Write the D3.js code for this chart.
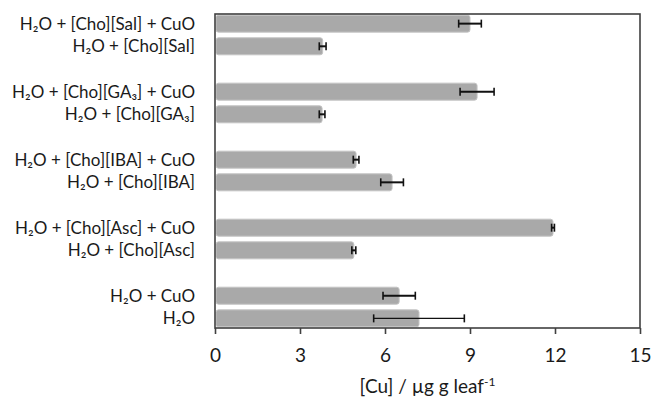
<!DOCTYPE html>
<meta charset="utf-8">
<style>
body{margin:0;background:#fff;}
text{font-family:Lato,"Open Sans",sans-serif;fill:#1a1a1a;}
.frame{fill:none;stroke:#404040;stroke-width:1.6px;}
.bar{fill:#a9a9a9;stroke:#c4c4c4;stroke-width:1px;}
.err line{stroke:#111;}
.x-axis path{display:none;}
.x-axis line{stroke:#404040;stroke-width:1.6px;}
.x-axis text{font-size:19px;}
</style>
<body>
<script src="https://d3js.org/d3.v7.min.js"></script>
<script>

// top to bottom, "" = empty slot between groups
var labels = [
  "H₂O + [Cho][Sal] + CuO", "H₂O + [Cho][Sal]", "",
  "H₂O + [Cho][GA₃] + CuO", "H₂O + [Cho][GA₃]", "",
  "H₂O + [Cho][IBA] + CuO", "H₂O + [Cho][IBA]", "",
  "H₂O + [Cho][Asc] + CuO", "H₂O + [Cho][Asc]", "",
  "H₂O + CuO", "H₂O"
];
var values = [9.0, 3.8, null, 9.25, 3.78, null, 4.98, 6.25, null, 11.93, 4.9, null, 6.5, 7.2];
var errors = [0.4, 0.12, null, 0.6, 0.1, null, 0.1, 0.4, null, 0.05, 0.07, null, 0.57, 1.6];
var xTicks = [0, 3, 6, 9, 12, 15];

var W = 654, H = 401;
var plotL = 215, plotR = 640, plotT = 14, plotB = 328;

var svg = d3.select("body").append("svg").attr("width", W).attr("height", H);

var x = d3.scaleLinear().domain([0, 15]).range([plotL, plotR]);
var y = d3.scaleBand().domain(d3.range(labels.length)).range([plotT, plotB]).paddingInner(0.25).paddingOuter(0.05);

var rows = d3.range(labels.length).filter(function(i){ return values[i] !== null; });

svg.selectAll(".bar").data(rows).enter().append("rect")
  .attr("class", "bar")
  .attr("x", x(0) + 1)
  .attr("y", function(i){ return y(i); })
  .attr("width", function(i){ return x(values[i]) - x(0) - 1; })
  .attr("height", y.bandwidth())
  .attr("rx", 2.5);

var err = svg.selectAll(".err").data(rows).enter().append("g").attr("class", "err")
  .attr("transform", function(i){ return "translate(0," + (y(i) + y.bandwidth() / 2) + ")"; });
err.append("line")
  .attr("x1", function(i){ return x(values[i] - errors[i]); })
  .attr("x2", function(i){ return x(values[i] + errors[i]); })
  .style("stroke-width", function(i){ return i == 13 ? 1.2 : 2; });
[-1, 1].forEach(function(s){
  err.append("line")
    .attr("x1", function(i){ return x(values[i] + s * errors[i]); })
    .attr("x2", function(i){ return x(values[i] + s * errors[i]); })
    .attr("y1", -4).attr("y2", 4)
    .style("stroke-width", 1.6);
});

svg.append("rect").attr("class", "frame")
  .attr("x", plotL).attr("y", plotT).attr("width", plotR - plotL).attr("height", plotB - plotT);

svg.append("g").attr("class", "x-axis")
  .attr("transform", "translate(0," + plotB + ")")
  .call(d3.axisBottom(x).tickValues(xTicks).tickSize(6).tickPadding(15));

svg.selectAll(".label").data(rows).enter().append("text")
  .attr("class", "label")
  .attr("x", 195)
  .attr("y", function(i){ return y(i) + y.bandwidth() / 2; })
  .attr("dy", "0.36em")
  .attr("text-anchor", "end")
  .style("font-size", "17px")
  .text(function(i){ return labels[i]; });

var title = svg.append("text")
  .attr("x", x(7.5)).attr("y", 393)
  .attr("text-anchor", "middle")
  .style("font-size", "19px");
title.append("tspan").text("[Cu] / µg g leaf");
title.append("tspan").attr("dy", -7).style("font-size", "12px").text("-1");

</script>
</body>
